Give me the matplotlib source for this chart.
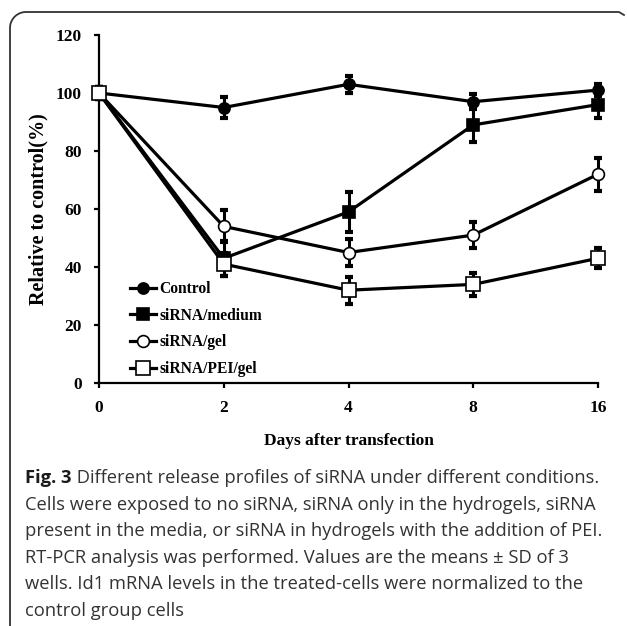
import matplotlib
matplotlib.use('Agg')
import matplotlib.pyplot as plt
from matplotlib.lines import Line2D
import numpy as np

# data
days = ['0', '2', '4', '8', '16']
control = [100, 95, 103, 97, 101]
control_sd = [2, 3.7, 3, 2.5, 2]
medium = [100, 43, 59, 89, 96]
medium_sd = [2, 6, 7, 6, 4.5]
gel = [100, 54, 45, 51, 72]
gel_sd = [2, 5.5, 4.8, 4.5, 5.7]
pei = [100, 41, 32, 34, 43]
pei_sd = [2, 4, 4.7, 4, 3.5]

series = [
    ('Control', control, control_sd, 'o', 'black', 8),
    ('siRNA/medium', medium, medium_sd, 's', 'black', 9),
    ('siRNA/gel', gel, gel_sd, 'o', 'white', 8.5),
    ('siRNA/PEI/gel', pei, pei_sd, 's', 'white', 9.5),
]

caption_bold = 'Fig. 3'
caption_lines = [
    ' Different release profiles of siRNA under different conditions.',
    'Cells were exposed to no siRNA, siRNA only in the hydrogels, siRNA',
    'present in the media, or siRNA in hydrogels with the addition of PEI.',
    'RT-PCR analysis was performed. Values are the means \u00b1 SD of 3',
    'wells. Id1 mRNA levels in the treated-cells were normalized to the',
    'control group cells',
]

W, H = 627, 626
fig = plt.figure(figsize=(6.27, 6.26), dpi=100)
ax = fig.add_axes([99 / W, 1 - 383 / H, (598 - 99) / W, (383 - 35) / H])

serif = ['Liberation Serif', 'DejaVu Serif']
x = np.arange(len(days))
handles = []
for name, vals, sd, mk, fc, ms in series:
    ax.errorbar(x, vals, yerr=sd, fmt='none', ecolor='black', elinewidth=2.2,
                capsize=2.8, capthick=3, zorder=2, clip_on=False)
    ln, = ax.plot(x, vals, color='black', lw=2.3, marker=mk, markersize=ms,
                  markerfacecolor=fc, markeredgecolor='black',
                  markeredgewidth=1.2, zorder=3, label=name, clip_on=False)
    handles.append(ln)

ax.set_xlim(0, len(days) - 1)
ax.set_ylim(0, 120)
ax.set_xticks(x)
ax.set_xticklabels(days)
ax.set_yticks(np.arange(0, 121, 20))
ax.spines['top'].set_visible(False)
ax.spines['right'].set_visible(False)
for s in ['left', 'bottom']:
    ax.spines[s].set_linewidth(1.6)
ax.tick_params(direction='out', length=3.5, width=1.6, pad=9)
for lab in ax.get_xticklabels() + ax.get_yticklabels():
    lab.set_fontfamily(serif)
    lab.set_fontweight('bold')
    lab.set_fontsize(12.5)

ax.set_xlabel('Days after transfection', fontfamily=serif, fontweight='bold',
              fontsize=12.5, labelpad=12)
ax.set_ylabel('Relative to control(%)', fontfamily=serif, fontweight='bold',
              fontsize=14.5, labelpad=5)

leg = ax.legend(handles=handles, loc='upper left',
                bbox_to_anchor=((124 - 99) / (598 - 99), (383 - 275) / (383 - 35)),
                frameon=False, handlelength=1.65, handletextpad=0.2,
                labelspacing=0.68, borderaxespad=0,
                prop={'family': serif, 'weight': 'bold', 'size': 11.2})

# caption
caption_font = ['Open Sans', 'DejaVu Sans']
fs = 13.2
y0 = 1 - 478 / H
step = 26.6 / H
t = fig.text(25 / W, y0, caption_bold, fontfamily=caption_font,
             fontweight='bold', fontsize=fs, color='#1a1a1a', va='center')
fig.canvas.draw()
bb = t.get_window_extent()
fig.text(bb.x1 / W, y0, caption_lines[0], fontfamily=caption_font,
         fontsize=fs, color='#333333', va='center')
for i, line in enumerate(caption_lines[1:], start=1):
    fig.text(25 / W, y0 - i * step, line, fontfamily=caption_font,
             fontsize=fs, color='#333333', va='center')

# rounded frame around the figure panel (open at the bottom)
r = 16
theta = np.linspace(np.pi, np.pi / 2, 20)
arc_x = 10 + r + r * np.cos(theta)
arc_y = 12 + r - r * np.sin(theta)
fx = np.concatenate([[10], arc_x, [619, 624]])
fy = np.concatenate([[H], arc_y, [12, 15]])
fig.add_artist(Line2D(fx / W, 1 - fy / H, transform=fig.transFigure,
                      color='#333333', lw=1.3))

fig.savefig('out.png', dpi=100)
